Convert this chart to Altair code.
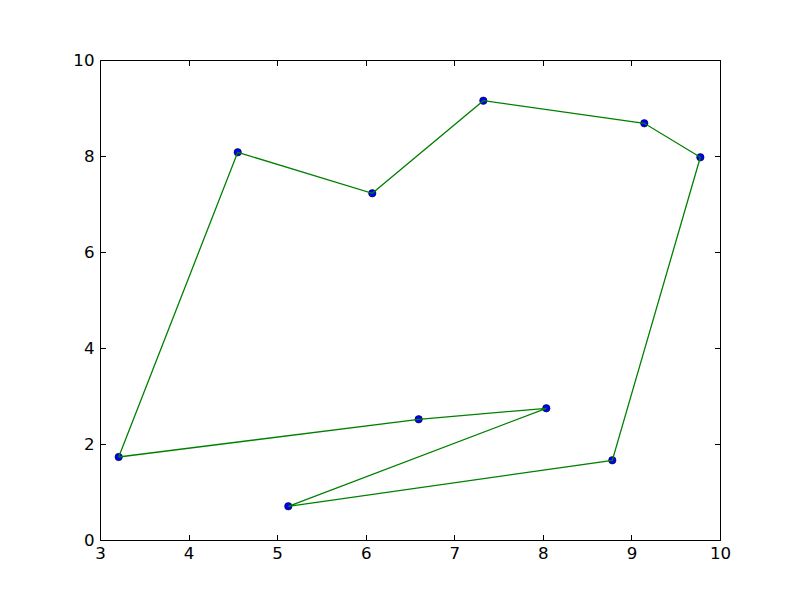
import altair as alt
import pandas as pd

# Data (tour order; the path closes back to the first point)
xs = [3.211, 4.555, 6.074, 7.328, 9.145, 9.778, 8.784, 5.126, 8.039, 6.598]
ys = [1.729, 8.077, 7.223, 9.152, 8.681, 7.973, 1.660, 0.702, 2.744, 2.515]
x_ticks = [3, 4, 5, 6, 7, 8, 9, 10]
y_ticks = [0, 2, 4, 6, 8, 10]

pts = pd.DataFrame({"x": xs, "y": ys, "order": list(range(len(xs)))})
path = pd.DataFrame({
    "x": xs + [xs[0]],
    "y": ys + [ys[0]],
    "order": list(range(len(xs) + 1)),
})

TICK = 5.5
FONT = "DejaVu Sans"
FS = 16.67

xscale = alt.Scale(domain=[3, 10], nice=False, zero=False)
yscale = alt.Scale(domain=[0, 10], nice=False, zero=False)


def axis(orient, labels=True, pad=5):
    return alt.Axis(
        orient=orient, values=x_ticks if orient in ("bottom", "top") else y_ticks,
        offset=-TICK, tickSize=TICK, tickColor="black", tickWidth=1,
        domain=False, grid=False, labels=labels, labelFont=FONT,
        labelFontSize=FS, labelColor="black", labelPadding=pad,
        labelFlush=False, labelOverlap=False, format="d", title=None,
    )


points = alt.Chart(pts).mark_point(
    filled=True, fill="#0000ff", stroke="black", strokeWidth=0.6,
    size=55, opacity=1
).encode(
    x=alt.X("x:Q", scale=xscale, axis=axis("bottom", pad=5)),
    y=alt.Y("y:Q", scale=yscale, axis=axis("left", pad=6)),
)

line = alt.Chart(path).mark_line(color="#008000", strokeWidth=1.3).encode(
    x=alt.X("x:Q", scale=xscale, axis=None),
    y=alt.Y("y:Q", scale=yscale, axis=None),
    order="order:Q",
)

frame_axes = alt.Chart(pts).mark_point(opacity=0).encode(
    x=alt.X("x:Q", scale=xscale, axis=axis("top", labels=False)),
    y=alt.Y("y:Q", scale=yscale, axis=axis("right", labels=False)),
)

chart = alt.layer(points, line, frame_axes).resolve_axis(
    x="independent", y="independent"
).properties(
    width=620, height=480,
    autosize="none",
    padding={"left": 92, "top": 52, "right": 60, "bottom": 40},
    background="white",
).configure_view(stroke="black", strokeWidth=1)

chart.save("out.html", embed_options={"renderer": "svg", "actions": False})
